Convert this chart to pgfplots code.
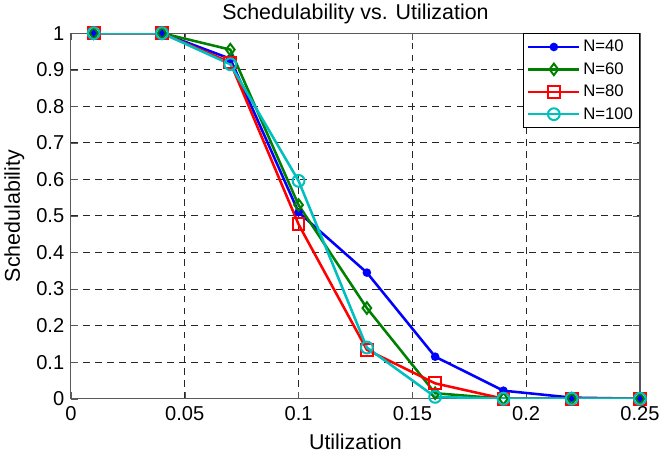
\documentclass[border=0pt]{standalone}
\usepackage{pgfplots}
\pgfplotsset{compat=1.18}
\usepackage{fontspec}
\setmainfont{Liberation Sans}
\definecolor{mgreen}{rgb}{0,0.5,0}
\definecolor{mcyan}{rgb}{0,0.75,0.75}
\begin{document}
\begin{tikzpicture}
\begin{axis}[
  scale only axis,
  width=425pt, height=273pt,
  xmin=0, xmax=0.25, ymin=0, ymax=1,
  xtick={0,0.05,...,0.25},
  ytick={0,0.1,...,1},
  xticklabels={0,0.05,0.1,0.15,0.2,0.25},
  yticklabels={0,0.1,0.2,0.3,0.4,0.5,0.6,0.7,0.8,0.9,1},
  grid=major,
  major grid style={dash pattern=on 5pt off 4pt, black!85, line width=0.75pt},
  axis line style={gray!70!black, line width=0.8pt},
  tick style={gray!70!black},
  tick align=inside,
  major tick length=5pt,
  tick label style={font=\fontsize{15}{17}\selectfont},
  xticklabel style={yshift=-2.5pt},
  yticklabel style={xshift=-1.5pt},
  label style={font=\fontsize{16}{18}\selectfont},
  title style={font=\fontsize{16}{18}\selectfont, yshift=-3pt},
  title={Schedulability vs. Utilization},
  xlabel={Utilization},
  ylabel={Schedulability},
  xlabel style={yshift=-2.5pt},
  ylabel style={yshift=2pt},
  legend style={at={(1,1)}, anchor=north east, draw=black, fill=white,
    font=\fontsize{12.5}{14}\selectfont, inner sep=3pt, row sep=2.5pt},
  legend cell align=left,
  legend image code/.code={\draw[line width=1.9pt, mark repeat=2,mark phase=2] plot coordinates {(0pt,0pt) (19pt,0pt) (38pt,0pt)};},
  every axis plot/.append style={line width=1.9pt},
]
\addplot[blue, mark=*, mark size=2.2pt] coordinates {
(0.01,1) (0.04,1) (0.07,0.93) (0.10,0.51) (0.13,0.345) (0.16,0.115) (0.19,0.022) (0.22,0.003) (0.25,0)};
\addlegendentry{N=40}
\addplot[mgreen, mark=diamond, mark size=4.3pt, mark options={line width=1.5pt}] coordinates {
(0.01,1) (0.04,1) (0.07,0.955) (0.10,0.53) (0.13,0.248) (0.16,0.015) (0.19,0) (0.22,0) (0.25,0)};
\addlegendentry{N=60}
\addplot[red, mark=square, mark size=4.4pt, mark options={line width=1.5pt}] coordinates {
(0.01,1) (0.04,1) (0.07,0.92) (0.10,0.477) (0.13,0.134) (0.16,0.042) (0.19,0) (0.22,0) (0.25,0)};
\addlegendentry{N=80}
\addplot[mcyan, mark=o, mark size=4.4pt, mark options={line width=1.5pt}] coordinates {
(0.01,1) (0.04,1) (0.07,0.915) (0.10,0.596) (0.13,0.14) (0.16,0.005) (0.19,0) (0.22,0) (0.25,0)};
\addlegendentry{N=100}
\end{axis}
\end{tikzpicture}
\end{document}
